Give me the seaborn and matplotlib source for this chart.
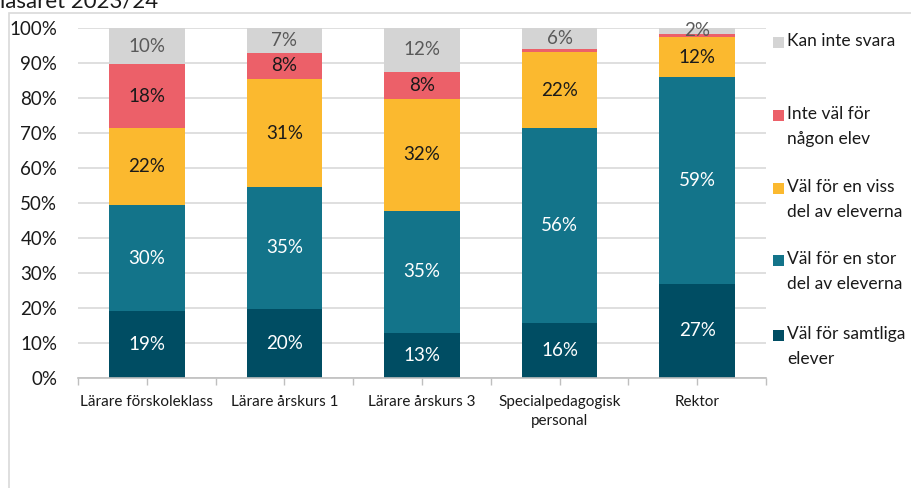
import matplotlib
matplotlib.use("Agg")
import matplotlib.pyplot as plt
import seaborn as sns
import numpy as np
import pandas as pd
from matplotlib.patches import Rectangle

categories = ["Lärare förskoleklass", "Lärare årskurs 1", "Lärare årskurs 3",
              "Specialpedagogisk\npersonal", "Rektor"]
series_names = ["Väl för samtliga\nelever", "Väl för en stor\ndel av eleverna",
                "Väl för en viss\ndel av eleverna", "Inte väl för\nnågon elev",
                "Kan inte svara"]
samtliga = [19.1, 19.7, 12.9, 15.7, 26.9]
stor = [30.3, 34.9, 34.9, 55.7, 59.0]
viss = [22.0, 30.7, 32.0, 21.7, 11.6]
inte = [18.2, 7.7, 7.7, 0.9, 0.9]
kan_inte = [10.4, 7.0, 12.5, 6.0, 1.6]
yticks = list(range(0, 101, 10))

colors = ["#004D63", "#13748A", "#FBB92F", "#EC6069", "#D4D4D4"]
text_colors = ["white", "white", "#1A1A1A", "#1A1A1A", "#595959"]

series = [samtliga, stor, viss, inte, kan_inte]

sns.set_theme(style="white")
plt.rcParams['font.family'] = ['Lato', 'DejaVu Sans']

W, H = 911, 488
fig = plt.figure(figsize=(W / 100, H / 100), dpi=100)
L, R, T, B = 78, 766, 28, 378
ax = fig.add_axes([L / W, 1 - B / H, (R - L) / W, (B - T) / H])

# outer frame
fig.patches.append(Rectangle((9 / W, -0.1), 1.2, 1 - 13 / H + 0.1, transform=fig.transFigure,
                             fill=False, edgecolor="#D9D9D9", linewidth=1.2, zorder=0))
fig.text(0 / W, 1 - 7 / H, "läsåret 2023/24", fontsize=16, color="#1A1A1A",
         ha="left", va="baseline")

data = np.array(series)
cum = np.cumsum(data, axis=0)
for i in range(len(series) - 1, -1, -1):
    df = pd.DataFrame({"cat": categories, "val": cum[i]})
    sns.barplot(data=df, x="cat", y="val", color=colors[i], saturation=1,
                width=0.55, ax=ax, zorder=2, errorbar=None, linewidth=0,
                edgecolor="none")

for i in range(len(series)):
    for j in range(len(categories)):
        v = data[i, j]
        if round(v) < 2:
            continue
        mid = cum[i, j] - v / 2
        ax.text(j, mid, f"{round(v)}%", ha="center", va="center", fontsize=13.5,
                color=text_colors[i], zorder=5)

ax.set_ylim(0, 100)
ax.set_xlim(-0.5, len(categories) - 0.5)
ax.set_yticks(yticks)
ax.set_yticklabels([f"{t}%" for t in yticks], fontsize=13.5, color="#1A1A1A")
ax.yaxis.grid(True, color="#D9D9D9", linewidth=1.2, zorder=0)
ax.set_axisbelow(True)
ax.set_xlabel("")
ax.set_ylabel("")
for s in ["top", "right", "left"]:
    ax.spines[s].set_visible(False)
ax.spines["bottom"].set_color("#BFBFBF")
ax.spines["bottom"].set_linewidth(1.2)
ax.set_xticks(np.arange(len(categories)))
ax.set_xticklabels(categories, fontsize=11, color="#1A1A1A", linespacing=1.5)
ax.set_xticks(np.arange(-0.5, len(categories), 1.0), minor=True)
ax.tick_params(axis="x", which="both", length=5, color="#BFBFBF", width=1.0,
               direction="out", bottom=True, pad=7)
ax.tick_params(axis="y", length=0, pad=15)

# legend (top to bottom reversed stacking order)
leg_y = [42, 115, 188, 260, 335]
for k, i in enumerate(range(len(series) - 1, -1, -1)):
    y = leg_y[k]
    fig.patches.append(Rectangle((773 / W, 1 - (y + 6) / H), 11 / W, 11 / H,
                                 transform=fig.transFigure, facecolor=colors[i],
                                 edgecolor="none"))
    fig.text(787 / W, 1 - (y - 9) / H, series_names[i], fontsize=12.5, color="#1A1A1A",
             ha="left", va="top", linespacing=1.72)

fig.savefig("out.png", dpi=100)
